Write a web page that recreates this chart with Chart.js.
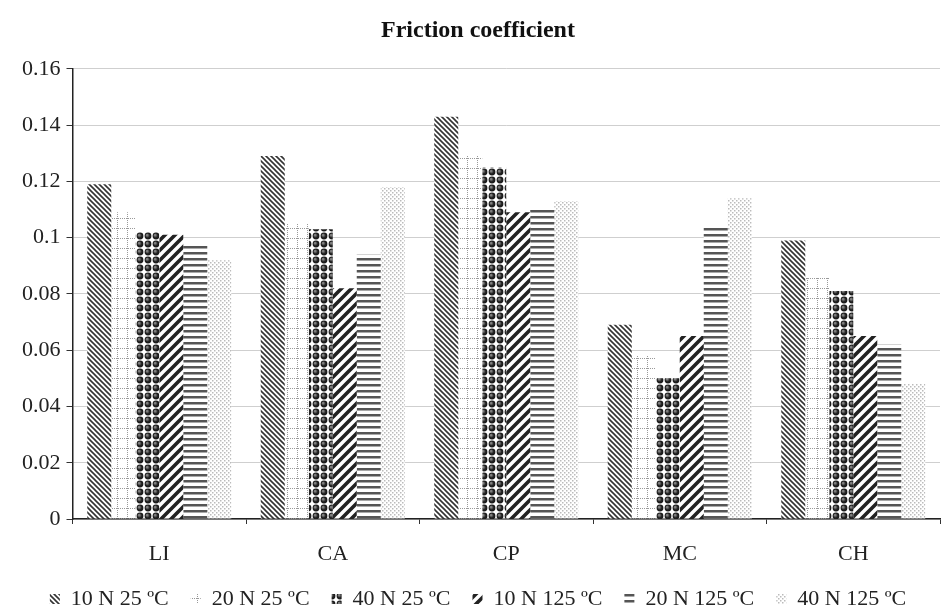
<!DOCTYPE html>
<html>
<head>
<meta charset="utf-8">
<script src="https://cdn.jsdelivr.net/npm/chart.js@4"></script>
<style>
  body { margin: 0; background: #fff; }
  #wrap { width: 946px; height: 615px; }
</style>
</head>
<body>
<div id="wrap"><canvas id="friccion"></canvas></div>
<script>
// Datos
const categorias = ["LI", "CA", "CP", "MC", "CH"];
const series = ["10 N 25 ºC", "20 N 25 ºC", "40 N 25 ºC", "10 N 125 ºC", "20 N 125 ºC", "40 N 125 ºC"];
const v10N25 = [0.119, 0.129, 0.143, 0.069, 0.099];
const v20N25 = [0.109, 0.105, 0.129, 0.058, 0.086];
const v40N25 = [0.102, 0.103, 0.125, 0.050, 0.081];
const v10N125 = [0.101, 0.082, 0.109, 0.065, 0.065];
const v20N125 = [0.097, 0.094, 0.110, 0.104, 0.062];
const v40N125 = [0.092, 0.118, 0.113, 0.114, 0.048];
const valores = [v10N25, v20N25, v40N25, v10N125, v20N125, v40N125];

// Crea un patron de relleno a partir de una funcion de dibujo
function patron(tam, dibujar) {
  const c = document.createElement("canvas");
  c.width = tam; c.height = tam;
  const g = c.getContext("2d");
  g.fillStyle = "#fff";
  g.fillRect(0, 0, tam, tam);
  dibujar(g, tam);
  return document.getElementById("friccion").getContext("2d").createPattern(c, "repeat");
}

const patrones = [
  // lineas finas diagonales "\"
  patron(5, (g, t) => {
    g.strokeStyle = "#333"; g.lineWidth = 1.6;
    g.beginPath();
    g.moveTo(-1, -1); g.lineTo(t + 1, t + 1);
    g.moveTo(-1, t - 1); g.lineTo(1, t + 1);
    g.moveTo(t - 1, -1); g.lineTo(t + 1, 1);
    g.stroke();
  }),
  // cuadricula punteada clara
  patron(10, (g, t) => {
    g.fillStyle = "#999";
    for (let i = 0; i < t; i += 2) {
      g.fillRect(7, i, 1, 1);
      g.fillRect(i, 8, 1, 1);
    }
  }),
  // esferas oscuras
  patron(8, (g, t) => {
    const gr = g.createRadialGradient(3, 3, 0.5, 4, 4, 4);
    gr.addColorStop(0, "#888");
    gr.addColorStop(0.5, "#222");
    gr.addColorStop(1, "#111");
    g.fillStyle = gr;
    g.beginPath(); g.arc(4, 4, 3.4, 0, Math.PI * 2); g.fill();
  }),
  // lineas gruesas diagonales "/"
  patron(10, (g, t) => {
    g.strokeStyle = "#222"; g.lineWidth = 3.6;
    g.beginPath();
    g.moveTo(-2, t + 2); g.lineTo(t + 2, -2);
    g.moveTo(-2, 2); g.lineTo(2, -2);
    g.moveTo(t - 2, t + 2); g.lineTo(t + 2, t - 2);
    g.stroke();
  }),
  // franjas horizontales
  patron(6, (g, t) => {
    g.fillStyle = "#555";
    g.fillRect(0, 0, t, 2.5);
  }),
  // puntos claros
  patron(4, (g, t) => {
    g.fillStyle = "#bbb";
    g.fillRect(0, 0, 1.5, 1.5);
    g.fillRect(2, 2, 1.5, 1.5);
  })
];

const fuente = "Liberation Serif";

const ctx = document.getElementById("friccion").getContext("2d");
const chart = new Chart(ctx, {
  type: "bar",
  data: {
    labels: categorias,
    datasets: series.map((nombre, i) => ({
      label: nombre,
      data: valores[i],
      backgroundColor: patrones[i],
      borderWidth: 0,
      categoryPercentage: 0.83,
      barPercentage: 1
    }))
  },
  options: {
    responsive: true,
    maintainAspectRatio: false,
    animation: false,
    layout: { padding: { left: 16, right: 6, top: 4, bottom: -5 } },
    plugins: {
      title: {
        display: true,
        text: "Friction coefficient",
        color: "#111",
        font: { family: fuente, size: 24, weight: "bold" },
        padding: { top: 12, bottom: 24 }
      },
      legend: {
        position: "bottom",
        labels: {
          color: "#222",
          font: { family: fuente, size: 22 },
          boxWidth: 10,
          boxHeight: 10,
          padding: 22
        }
      },
      tooltip: { enabled: false }
    },
    scales: {
      y: {
        min: 0,
        max: 0.16,
        ticks: {
          stepSize: 0.02,
          color: "#222",
          font: { family: fuente, size: 22 },
          padding: 6,
          callback: v => String(+v.toFixed(2))
        },
        grid: { color: "#cfcfcf", tickColor: "#333", tickLength: 6 },
        border: { color: "#222", width: 1.5 }
      },
      x: {
        // altura fija del eje para dejar las etiquetas bajas sin empujar la leyenda
        afterFit: escala => { escala.height = 47; },
        ticks: {
          color: "#222",
          font: { family: fuente, size: 22 },
          padding: 17
        },
        grid: { drawOnChartArea: false, tickColor: "#333", tickLength: 5 },
        border: { color: "#222", width: 1.5 }
      }
    }
  }
});
chart.render();
</script>
</body>
</html>
